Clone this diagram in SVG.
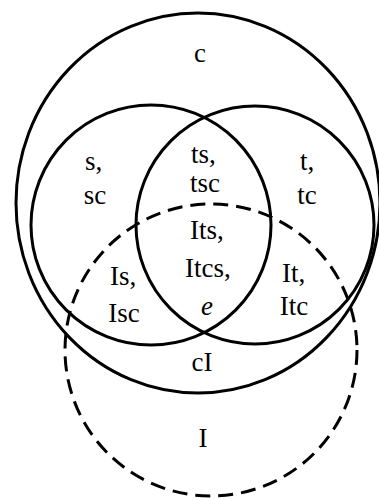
<svg xmlns="http://www.w3.org/2000/svg" width="379" height="499" viewBox="0 0 379 499">
<style>
.c{fill:none;stroke:#000;stroke-width:3}
.d{fill:none;stroke:#000;stroke-width:3;stroke-dasharray:15 8}
text{font-family:"Liberation Serif","Times New Roman",serif;font-size:27px;fill:#000}
.m{text-anchor:middle}
</style>
<rect width="379" height="499" fill="#fff"/>
<g id="connectors"></g>
<g id="set-c"><ellipse class="c" cx="198" cy="203" rx="182" ry="190"/></g>
<g id="set-s"><circle class="c" cx="151" cy="225" r="120"/></g>
<g id="set-t"><circle class="c" cx="255" cy="225" r="119"/></g>
<g id="set-I"><circle class="d" cx="211" cy="350" r="146"/></g>
<g id="labels">
<text class="m" x="200" y="62">c</text>
<text x="85" y="170">s,</text>
<text class="m" x="95" y="204">sc</text>
<text x="191" y="163">ts,</text>
<text class="m" x="205" y="192">tsc</text>
<text x="300" y="170">t,</text>
<text class="m" x="307" y="204">tc</text>
<text x="190" y="239">Its,</text>
<text x="185" y="277">Itcs,</text>
<text class="m" x="207" y="315" font-style="italic">e</text>
<text x="110" y="285">Is,</text>
<text class="m" x="124" y="322">Isc</text>
<text x="282" y="282">It,</text>
<text class="m" x="294" y="315">Itc</text>
<text class="m" x="202" y="371">cI</text>
<text class="m" x="203" y="447">I</text>
</g>
</svg>
